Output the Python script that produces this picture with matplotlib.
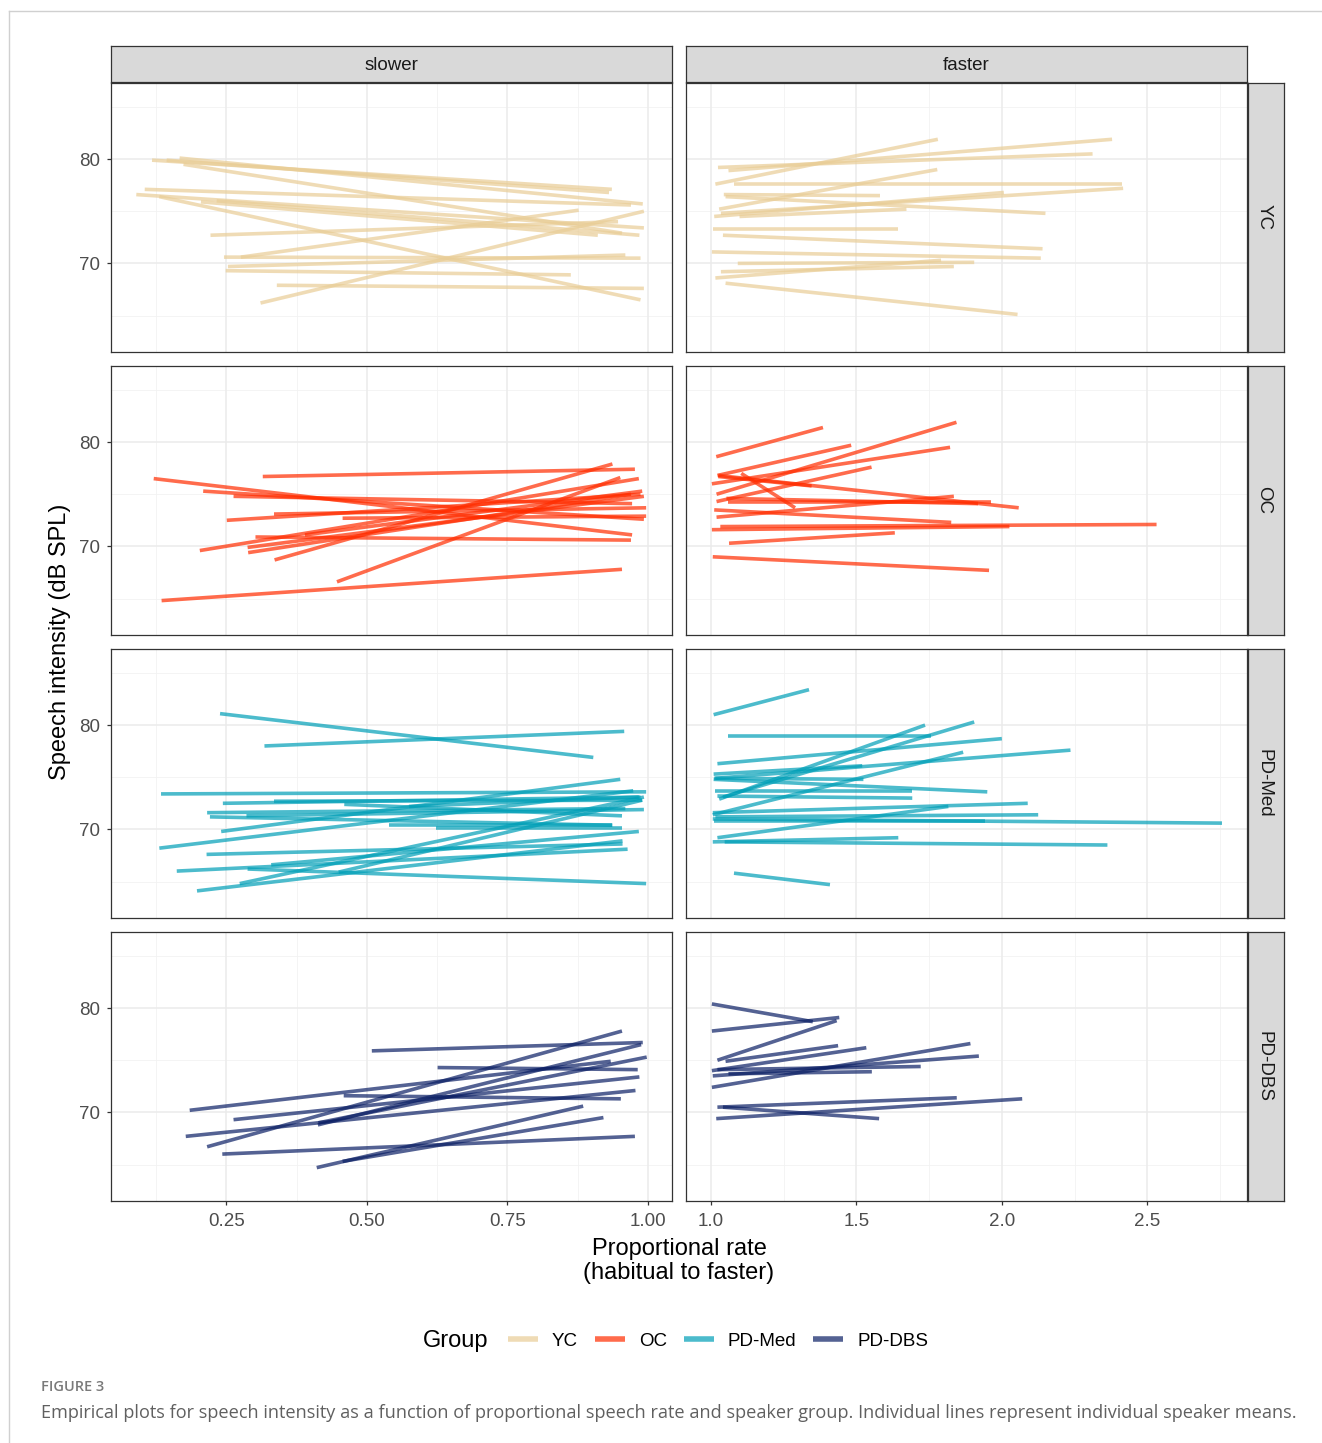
import matplotlib.pyplot as plt
from matplotlib.lines import Line2D

# speaker means: (rate start, dB start, rate end, dB end)
yc_slower = [
    (0.118, 79.9, 0.936, 77.1), (0.144, 79.9, 0.931, 76.8), (0.167, 80.1, 0.991, 75.7),
    (0.174, 79.5, 0.954, 72.9), (0.105, 77.1, 0.970, 75.6), (0.090, 76.6, 0.993, 73.4),
    (0.205, 75.9, 0.911, 72.7), (0.233, 76.0, 0.985, 72.7), (0.131, 76.4, 0.987, 66.5),
    (0.311, 66.2, 0.993, 75.0), (0.276, 70.6, 0.877, 75.1), (0.222, 72.7, 0.947, 74.0),
    (0.246, 70.6, 0.987, 70.5), (0.253, 69.7, 0.960, 70.8), (0.249, 69.3, 0.863, 68.9),
    (0.340, 67.9, 0.993, 67.6),
]
yc_faster = [
    (1.015, 77.6, 1.780, 81.9), (1.024, 79.2, 2.312, 80.5), (1.060, 78.9, 2.379, 81.9),
    (1.079, 77.6, 2.413, 77.6), (1.028, 75.2, 1.778, 79.0), (1.034, 74.8, 2.417, 77.2),
    (1.044, 76.6, 1.581, 76.5), (1.050, 76.4, 2.150, 74.8), (1.011, 74.5, 2.007, 76.8),
    (1.098, 74.5, 1.672, 75.2), (1.006, 73.3, 1.642, 73.3), (1.041, 72.7, 2.140, 71.4),
    (1.003, 71.1, 2.134, 70.5), (1.092, 70.0, 1.905, 70.1), (1.034, 69.2, 1.835, 69.7),
    (1.015, 68.6, 1.791, 70.3), (1.050, 68.1, 2.054, 65.1),
]
oc_slower = [
    (0.121, 76.5, 0.972, 71.1), (0.315, 76.7, 0.977, 77.4), (0.209, 75.3, 0.993, 72.6),
    (0.263, 74.8, 0.972, 74.1), (0.251, 72.5, 0.987, 75.0), (0.335, 73.1, 0.997, 73.7),
    (0.457, 72.7, 0.997, 72.9), (0.302, 70.9, 0.970, 70.6), (0.390, 71.1, 0.990, 75.3),
    (0.203, 69.6, 0.984, 76.5), (0.288, 69.9, 0.993, 74.8), (0.289, 69.4, 0.970, 75.0),
    (0.336, 68.7, 0.937, 77.9), (0.447, 66.6, 0.951, 76.6), (0.135, 64.8, 0.954, 67.8),
]
oc_faster = [
    (1.018, 78.6, 1.385, 81.4), (1.022, 76.8, 1.482, 79.7), (1.019, 75.0, 1.844, 81.9),
    (1.003, 76.0, 1.822, 79.5), (1.019, 74.3, 1.552, 77.6), (1.104, 77.0, 1.289, 73.7),
    (1.025, 76.8, 2.058, 73.7), (1.053, 74.6, 1.918, 74.1), (1.060, 74.3, 1.962, 74.3),
    (1.011, 73.5, 1.826, 72.3), (1.019, 72.8, 1.835, 74.8), (1.003, 71.6, 2.026, 71.9),
    (1.032, 71.9, 2.532, 72.1), (1.062, 70.3, 1.632, 71.3), (1.006, 69.0, 1.956, 67.7),
    (1.025, 76.7, 1.346, 75.8),
]
pdmed_slower = [
    (0.239, 81.1, 0.903, 76.9), (0.318, 78.0, 0.958, 79.4), (0.134, 73.4, 0.997, 73.6),
    (0.244, 72.5, 0.987, 73.1), (0.335, 72.7, 0.990, 72.8), (0.460, 72.4, 0.954, 71.3),
    (0.216, 71.6, 0.960, 72.0), (0.221, 71.2, 0.937, 70.4), (0.286, 71.3, 0.993, 71.9),
    (0.575, 72.2, 0.984, 73.1), (0.241, 69.8, 0.951, 74.8), (0.131, 68.2, 0.974, 73.7),
    (0.540, 70.4, 0.937, 70.4), (0.623, 70.1, 0.954, 70.1), (0.215, 67.6, 0.955, 68.6),
    (0.330, 66.6, 0.984, 69.8), (0.162, 66.0, 0.964, 68.1), (0.288, 66.2, 0.997, 64.8),
    (0.450, 65.9, 0.990, 72.8), (0.274, 64.8, 0.993, 73.1), (0.198, 64.1, 0.955, 68.9),
]
pdmed_faster = [
    (1.009, 81.0, 1.337, 83.4), (1.057, 79.0, 1.756, 79.0), (1.022, 76.3, 2.000, 78.7),
    (1.028, 72.9, 1.736, 80.0), (1.041, 73.1, 1.905, 80.3), (1.009, 75.3, 1.520, 76.1),
    (1.015, 74.9, 2.236, 77.6), (1.009, 74.8, 1.950, 73.6), (1.011, 74.9, 1.524, 74.8),
    (1.015, 73.7, 1.692, 73.7), (1.022, 73.2, 1.692, 73.0), (1.006, 71.6, 2.089, 72.5),
    (1.015, 71.2, 2.125, 71.4), (1.006, 71.0, 2.757, 70.6), (1.009, 70.8, 1.943, 70.8),
    (1.022, 69.2, 1.816, 72.2), (1.006, 68.8, 1.644, 69.2), (1.047, 68.8, 2.363, 68.5),
    (1.079, 65.8, 1.409, 64.7), (1.006, 71.4, 1.867, 77.4),
]
pddbs_slower = [
    (0.509, 75.9, 0.991, 76.7), (0.626, 74.3, 0.982, 74.1), (0.185, 70.2, 0.934, 74.9),
    (0.263, 69.3, 0.985, 73.4), (0.178, 67.7, 0.978, 72.1), (0.216, 66.7, 0.954, 77.8),
    (0.413, 68.8, 0.988, 76.5), (0.414, 69.0, 0.998, 75.3), (0.459, 71.6, 0.952, 71.3),
    (0.243, 66.0, 0.977, 67.7), (0.411, 64.7, 0.885, 70.6), (0.457, 65.3, 0.921, 69.5),
]
pddbs_faster = [
    (1.003, 80.4, 1.350, 78.7), (1.003, 77.8, 1.441, 79.1), (1.022, 75.0, 1.432, 78.8),
    (1.050, 74.9, 1.437, 76.4), (1.003, 74.0, 1.534, 76.2), (1.006, 73.5, 1.921, 75.4),
    (1.003, 72.4, 1.892, 76.6), (1.022, 74.1, 1.721, 74.4), (1.060, 73.7, 1.553, 73.9),
    (1.022, 70.5, 1.845, 71.4), (1.041, 70.5, 1.578, 69.4), (1.018, 69.4, 2.070, 71.3),
]

groups = ['YC', 'OC', 'PD-Med', 'PD-DBS']
conditions = ['slower', 'faster']
group_colors = ['#E9CD96', '#FF2D00', '#009FB7', '#0B1F65']
panel_data = [
    [yc_slower, yc_faster],
    [oc_slower, oc_faster],
    [pdmed_slower, pdmed_faster],
    [pddbs_slower, pddbs_faster],
]
x_ticks = [[0.25, 0.50, 0.75, 1.00], [1.0, 1.5, 2.0, 2.5]]
x_tick_labels = [['0.25', '0.50', '0.75', '1.00'], ['1.0', '1.5', '2.0', '2.5']]
x_minor = [[0.125, 0.375, 0.625, 0.875], [1.25, 1.75, 2.25, 2.75]]
x_limits = [(0.045, 1.043), (0.914, 2.843)]
y_ticks = [70, 80]
y_minor = [65, 75, 85]
y_limits = (61.5, 87.3)

plt.rcParams['font.family'] = ['Liberation Sans', 'DejaVu Sans']

W, H = 1322, 1443
fig = plt.figure(figsize=(W / 100, H / 100), dpi=100)

col_px = [(111, 672), (686, 1247)]
row_px = [(83, 352), (366, 635), (649, 918), (932, 1201)]
alpha = 0.7


def axes_px(x0, x1, y0, y1):
    return fig.add_axes([x0 / W, 1 - y1 / H, (x1 - x0) / W, (y1 - y0) / H])


def strip(ax, label, rotation=0):
    ax.set_facecolor('#D9D9D9')
    ax.set_xticks([])
    ax.set_yticks([])
    for s in ax.spines.values():
        s.set_color('#333333')
        s.set_linewidth(0.9)
    ax.text(0.5, 0.5, label, transform=ax.transAxes, ha='center', va='center_baseline',
            fontsize=13.5, color='#1A1A1A', rotation=rotation, rotation_mode='anchor')


for r, grp in enumerate(groups):
    for c, cond in enumerate(conditions):
        x0, x1 = col_px[c]
        y0, y1 = row_px[r]
        ax = axes_px(x0, x1, y0, y1)
        ax.set_xlim(*x_limits[c])
        ax.set_ylim(*y_limits)
        for v in x_minor[c]:
            ax.axvline(v, color='#F2F2F2', lw=0.6, zorder=0)
        for v in y_minor:
            ax.axhline(v, color='#F2F2F2', lw=0.6, zorder=0)
        for v in x_ticks[c]:
            ax.axvline(v, color='#EBEBEB', lw=1.1, zorder=0)
        for v in y_ticks:
            ax.axhline(v, color='#EBEBEB', lw=1.1, zorder=0)
        for xa, ya, xb, yb in panel_data[r][c]:
            ax.plot([xa, xb], [ya, yb], color=group_colors[r], alpha=alpha,
                    lw=2.6, solid_capstyle='butt', zorder=2)
        ax.set_xticks(x_ticks[c])
        ax.set_yticks(y_ticks)
        ax.tick_params(length=3, width=0.9, color='#333333', labelsize=13.5,
                       labelcolor='#4D4D4D')
        ax.tick_params(axis='x', pad=6)
        ax.tick_params(axis='y', pad=5)
        if r == len(groups) - 1:
            ax.set_xticklabels(x_tick_labels[c])
        else:
            ax.tick_params(axis='x', length=0, labelbottom=False)
        if c == 0:
            ax.set_yticklabels([str(t) for t in y_ticks])
        else:
            ax.tick_params(axis='y', length=0, labelleft=False)
        for s in ax.spines.values():
            s.set_color('#333333')
            s.set_linewidth(0.9)

# facet strips
for c, cond in enumerate(conditions):
    x0, x1 = col_px[c]
    strip(axes_px(x0, x1, 46, 82), cond)
for r, grp in enumerate(groups):
    y0, y1 = row_px[r]
    strip(axes_px(1248, 1284, y0, y1), grp, rotation=-90)

fig.text(60 / W, 1 - 642 / H, 'Speech intensity (dB SPL)', rotation=90,
         ha='center', va='center', fontsize=17, color='#000000')
fig.text(679 / W, 1 - 1261 / H, 'Proportional rate\n(habitual to faster)',
         ha='center', va='center', fontsize=17, linespacing=1.1)

# legend
fig.text(423 / W, 1 - 1341 / H, 'Group', ha='left', va='center', fontsize=17)
handles = [Line2D([], [], color=col, alpha=alpha, lw=4, solid_capstyle='butt')
           for col in group_colors]
fig.legend(handles, groups, ncol=4, loc='center', bbox_to_anchor=(718 / W, 1 - 1341 / H),
           frameon=False, fontsize=13.5, handlelength=1.6, handletextpad=0.75,
           columnspacing=0.9, borderpad=0, borderaxespad=0)

# caption
fig.text(41 / W, 1 - 1387 / H, 'FIGURE 3', ha='left', va='center', fontsize=10.5,
         color='#7A7A7A', family='Open Sans', weight='semibold')
fig.text(41 / W, 1 - 1413 / H,
         'Empirical plots for speech intensity as a function of proportional speech rate '
         'and speaker group. Individual lines represent individual speaker means.',
         ha='left', va='center', fontsize=13.1, color='#606060', family='Open Sans')

# outer frame
fig.add_artist(Line2D([9 / W, 9 / W], [0, 1 - 11 / H], transform=fig.transFigure,
                      color='#D0D0D0', lw=1))
fig.add_artist(Line2D([9 / W, 1], [1 - 11 / H, 1 - 11 / H], transform=fig.transFigure,
                      color='#D0D0D0', lw=1))

fig.savefig('out.png', dpi=100)
